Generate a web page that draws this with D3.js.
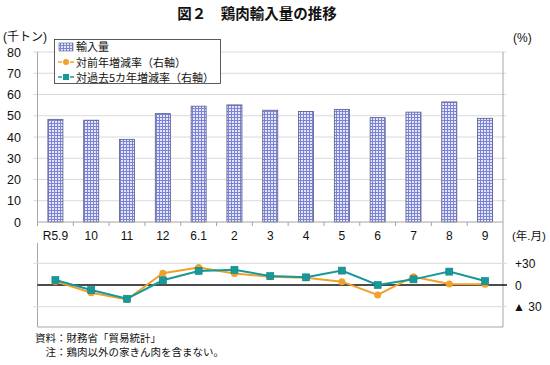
<!DOCTYPE html>
<html><head><meta charset="utf-8">
<script src="https://cdn.jsdelivr.net/npm/d3@7"></script>
<style>
body{margin:0;background:#fff;}
svg{display:block;font-family:"Liberation Sans","Noto Sans CJK JP",sans-serif;}
.jp{font-family:"Noto Sans CJK JP",sans-serif;}
</style></head>
<body>
<svg id="c" width="550" height="365"></svg>
<script>
const categories = ["R5.9","10","11","12","6.1","2","3","4","5","6","7","8","9"];
const imports   = [48.3,47.9,38.9,51.0,54.5,55.1,52.6,52.0,53.0,49.1,51.7,56.5,48.8];
const yoy       = [5,-10.6,-20,16.2,24.2,16,11.5,10,4.6,-13.8,11.5,1.4,1];
const vs5yr     = [6.9,-6.9,-19,6.5,19.4,21,12.4,10.6,19.9,0,7.8,18.5,5.5];
const leftTicks = [0,10,20,30,40,50,60,70,80];
const rightTicks = [30,0,-30];
const rightTickLabels = ["+30","0","▲ 30"];

const svg = d3.select("#c");
const L = 37.5, R = 503;
const x = d3.scaleBand().domain(categories).range([L,R]).paddingInner(0.58).paddingOuter(0.29);
const bnd = d3.scaleLinear().domain([0,categories.length]).range([L,R]);
const cx = c => x(c) + x.bandwidth()/2;
const y = d3.scaleLinear().domain([0,80]).range([222,52]);
const y2 = d3.scaleLinear().domain([-30,30]).range([306.7,263.3]);

// pattern
const defs = svg.append("defs");
const pat = defs.append("pattern").attr("id","grid").attr("patternUnits","userSpaceOnUse")
  .attr("width",3).attr("height",3);
pat.append("rect").attr("width",3).attr("height",3).attr("fill","#e4e6fa");
pat.append("rect").attr("width",3).attr("height",1).attr("fill","#7c82d6");
pat.append("rect").attr("width",1).attr("height",3).attr("fill","#7c82d6");

// title
svg.append("text").attr("class","jp").attr("x",257).attr("y",19).attr("text-anchor","middle")
  .attr("font-size",14.5).attr("font-weight","bold").attr("fill","#111").text("図２　鶏肉輸入量の推移");
svg.append("text").attr("x",3).attr("y",41).attr("font-size",12).attr("fill","#111").text("(千トン)");
svg.append("text").attr("x",513).attr("y",42).attr("font-size",12).attr("fill","#111").text("(%)");

// top grid
const gy = svg.append("g");
gy.selectAll("line").data(leftTicks.filter(d=>d>0)).join("line")
  .attr("x1",L-4).attr("x2",R+3).attr("y1",d=>y(d)).attr("y2",d=>y(d))
  .attr("stroke","#d9d9d9").attr("stroke-width",1);
// left labels
svg.append("g").selectAll("text").data(leftTicks).join("text")
  .attr("x",21).attr("y",d=>y(d)+4.5).attr("text-anchor","end").attr("font-size",12.5).attr("fill","#111").text(d=>d);

// bars
svg.append("g").selectAll("rect").data(imports).join("rect")
  .attr("x",(d,i)=>x(categories[i])).attr("width",x.bandwidth())
  .attr("y",d=>y(d)).attr("height",d=>y(0)-y(d))
  .attr("fill","url(#grid)").attr("stroke","#555a80").attr("stroke-width",0.8);

// axes lines top
svg.append("line").attr("x1",L).attr("x2",L).attr("y1",52).attr("y2",226).attr("stroke","#a6a6a6");
svg.append("line").attr("x1",L).attr("x2",R).attr("y1",222).attr("y2",222).attr("stroke","#a6a6a6");
svg.append("g").selectAll("line").data(d3.range(1,categories.length)).join("line")
  .attr("x1",d=>bnd(d)).attr("x2",d=>bnd(d)).attr("y1",222).attr("y2",226).attr("stroke","#a6a6a6");
svg.append("line").attr("x1",R).attr("x2",R).attr("y1",52).attr("y2",327).attr("stroke","#a6a6a6");

// x labels
svg.append("g").selectAll("text").data(categories).join("text")
  .attr("x",d=>cx(d)).attr("y",240).attr("text-anchor","middle").attr("font-size",12).attr("fill","#111").text(d=>d);
svg.append("text").attr("x",512).attr("y",240).attr("font-size",11.5).attr("fill","#111").text("(年.月)");

// bottom panel
svg.append("line").attr("x1",L).attr("x2",L).attr("y1",243).attr("y2",327).attr("stroke","#a6a6a6");
svg.append("line").attr("x1",L).attr("x2",R).attr("y1",327).attr("y2",327).attr("stroke","#a6a6a6");
svg.append("g").selectAll("line").data(rightTicks.filter(d=>d!==0)).join("line")
  .attr("x1",L-4).attr("x2",R+4).attr("y1",d=>y2(d)).attr("y2",d=>y2(d)).attr("stroke","#d9d9d9");
svg.append("line").attr("x1",L).attr("x2",R+4).attr("y1",y2(0)).attr("y2",y2(0)).attr("stroke","#111").attr("stroke-width",1.6);
svg.append("g").selectAll("text").data(rightTicks).join("text")
  .attr("x",(d,i)=>i===2?513:515).attr("y",d=>y2(d)+4.5).attr("font-size",12).attr("fill","#111")
  .text((d,i)=>rightTickLabels[i]);

const orange = "#f0a12a", teal = "#17999a";
const line = d3.line().x((d,i)=>cx(categories[i])).y(d=>y2(d));
svg.append("path").datum(yoy).attr("d",line).attr("fill","none").attr("stroke",orange).attr("stroke-width",2);
svg.append("g").selectAll("circle").data(yoy).join("circle")
  .attr("cx",(d,i)=>cx(categories[i])).attr("cy",d=>y2(d)).attr("r",3.5).attr("fill",orange);
svg.append("path").datum(vs5yr).attr("d",line).attr("fill","none").attr("stroke",teal).attr("stroke-width",2);
svg.append("g").selectAll("rect").data(vs5yr).join("rect")
  .attr("x",(d,i)=>cx(categories[i])-3.5).attr("y",d=>y2(d)-3.5).attr("width",7).attr("height",7)
  .attr("fill",teal).attr("stroke","#0f7f80").attr("stroke-width",0.6);

// legend
const lg = svg.append("g");
lg.append("rect").attr("x",54.5).attr("y",39.5).attr("width",166).attr("height",44)
  .attr("fill","#fff").attr("stroke","#333").attr("stroke-width",0.8);
lg.append("rect").attr("x",59).attr("y",43).attr("width",14).attr("height",8)
  .attr("fill","url(#grid)").attr("stroke","#555a80").attr("stroke-width",0.6);
lg.append("line").attr("x1",58).attr("x2",74).attr("y1",62).attr("y2",62).attr("stroke",orange).attr("stroke-width",1.5).attr("stroke-dasharray","4,2");
lg.append("circle").attr("cx",66).attr("cy",62).attr("r",3).attr("fill",orange);
lg.append("line").attr("x1",58).attr("x2",74).attr("y1",77).attr("y2",77).attr("stroke",teal).attr("stroke-width",1.5).attr("stroke-dasharray","4,2");
lg.append("rect").attr("x",63).attr("y",74).attr("width",6).attr("height",6).attr("fill",teal);
const legTexts = ["輸入量","対前年増減率（右軸）","対過去5カ年増減率（右軸）"];
lg.selectAll("text").data(legTexts).join("text").attr("class","jp")
  .attr("x",76).attr("y",(d,i)=>51+i*15.5).attr("font-size",11).attr("fill","#111").text(d=>d);

// footnotes
svg.append("text").attr("class","jp").attr("x",35).attr("y",342).attr("font-size",10.5).attr("fill","#111").text("資料：財務省「貿易統計」");
svg.append("text").attr("class","jp").attr("x",45.5).attr("y",356).attr("font-size",10.5).attr("fill","#111").text("注：鶏肉以外の家きん肉を含まない。");
</script>
</body></html>
